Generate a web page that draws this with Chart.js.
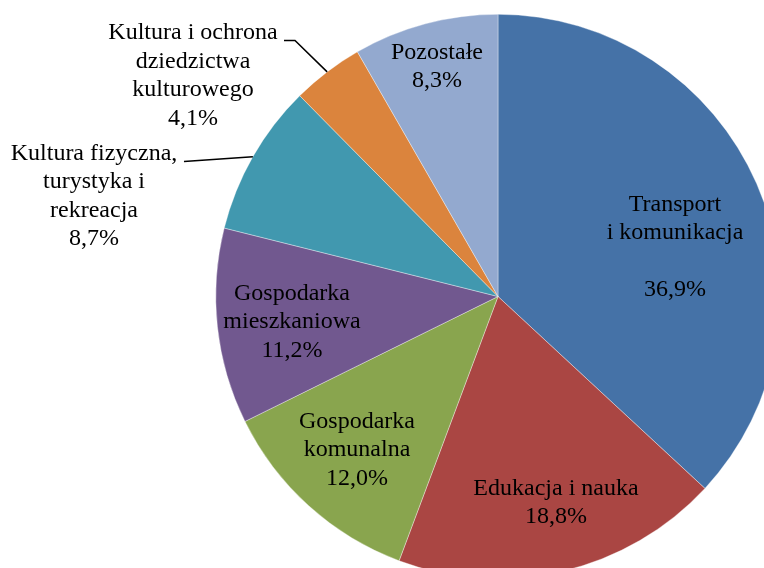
<!DOCTYPE html>
<html>
<head>
<meta charset="utf-8">
<script src="https://cdn.jsdelivr.net/npm/chart.js@4.4.1/dist/chart.umd.min.js"></script>
<style>
  html, body { margin: 0; padding: 0; background: #fff; overflow: hidden; }
  #wrap { position: absolute; left: 0; top: 0; }
  canvas { display: block; }
</style>
</head>
<body>
<div id="wrap"><canvas id="pie" width="996" height="593"></canvas></div>
<script>
// data
const categories = [
  "Transport i komunikacja",
  "Edukacja i nauka",
  "Gospodarka komunalna",
  "Gospodarka mieszkaniowa",
  "Kultura fizyczna, turystyka i rekreacja",
  "Kultura i ochrona dziedzictwa kulturowego",
  "Pozostałe"
];
const shares = [36.9, 18.8, 12.0, 11.2, 8.7, 4.1, 8.3];
// label text as it is broken into lines on the chart
const labelLines = [
  ["Transport", "i komunikacja", ""],
  ["Edukacja i nauka"],
  ["Gospodarka", "komunalna"],
  ["Gospodarka", "mieszkaniowa"],
  ["Kultura fizyczna,", "turystyka i", "rekreacja"],
  ["Kultura i ochrona", "dziedzictwa", "kulturowego"],
  ["Pozostałe"]
];
const colors = ["#4572A7", "#AA4643", "#89A54E", "#71588F", "#4198AF", "#DB843D", "#93A9CF"];

// label placement: offset of first text line from pie centre
const labelPos = [
  { dx: 177, dy: -92 },
  { dx: 58, dy: 192 },
  { dx: -141, dy: 125 },
  { dx: -206, dy: -3 },
  { dx: -404, dy: -143, leader: [{ dx: -314, dy: -135 }] },
  { dx: -305, dy: -263.5, leader: [{ dx: -214, dy: -256 }, { dx: -203, dy: -256 }] },
  { dx: -61, dy: -244 }
];
const lineH = 28.5;

function fmtPct(v) {
  return v.toFixed(1).replace(".", ",") + "%";
}

const pieLabels = {
  id: "pieLabels",
  afterDatasetsDraw(chart) {
    const ctx = chart.ctx;
    const meta = chart.getDatasetMeta(0);
    ctx.save();
    ctx.font = "24px 'Liberation Serif'";
    ctx.fillStyle = "#000";
    ctx.textAlign = "center";
    ctx.textBaseline = "middle";
    meta.data.forEach((arc, i) => {
      const p = labelPos[i];
      const cx = arc.x, cy = arc.y;
      const lines = labelLines[i].concat([fmtPct(shares[i])]);
      lines.forEach((t, k) => {
        if (t) ctx.fillText(t, cx + p.dx, cy + p.dy + k * lineH);
      });
      if (p.leader) {
        // leader line ends on the slice edge at its middle angle
        const mid = (arc.startAngle + arc.endAngle) / 2;
        const r = arc.outerRadius;
        ctx.beginPath();
        ctx.strokeStyle = "#000";
        ctx.lineWidth = 1.5;
        p.leader.forEach((q, k) => {
          if (k === 0) ctx.moveTo(cx + q.dx, cy + q.dy);
          else ctx.lineTo(cx + q.dx, cy + q.dy);
        });
        ctx.lineTo(cx + Math.cos(mid) * r, cy + Math.sin(mid) * r);
        ctx.stroke();
      }
    });
    ctx.restore();
  }
};

new Chart(document.getElementById("pie"), {
  type: "pie",
  data: {
    labels: categories,
    datasets: [{
      data: shares,
      backgroundColor: colors,
      borderColor: "rgba(255,255,255,0.6)",
      borderWidth: 0.6
    }]
  },
  options: {
    responsive: false,
    animation: false,
    layout: { padding: { top: 14, bottom: 14, left: 14, right: 14 } },
    plugins: {
      legend: { display: false },
      tooltip: { enabled: false }
    }
  },
  plugins: [pieLabels]
});
</script>
</body>
</html>
